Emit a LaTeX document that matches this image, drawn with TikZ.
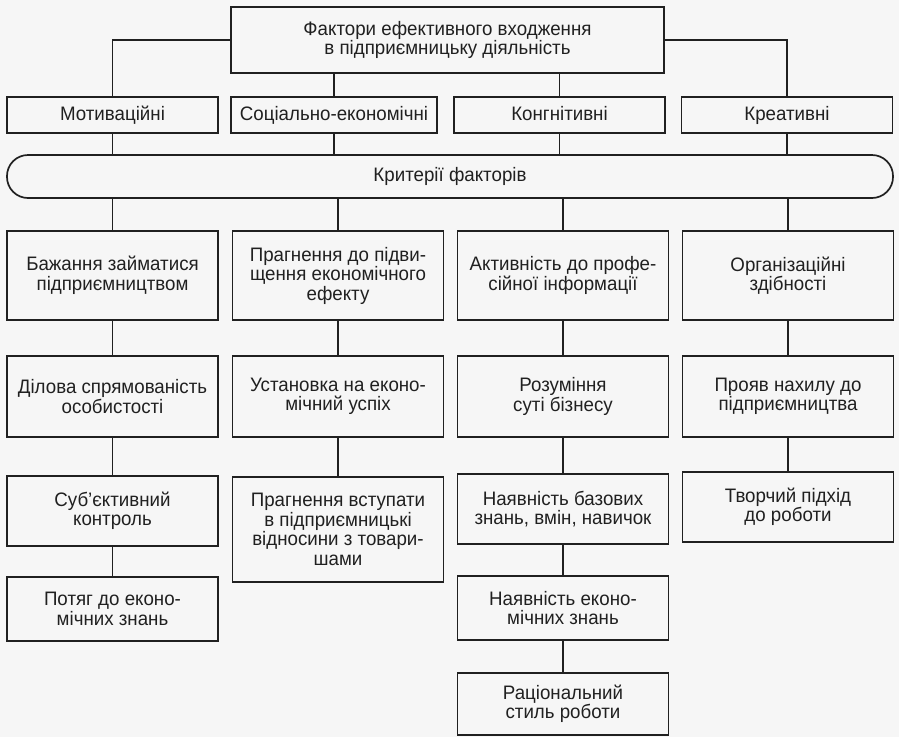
\documentclass[tikz,border=0pt]{standalone}
\usepackage{fontspec}
\setmainfont{Liberation Sans}[FakeStretch=0.96]
\definecolor{ink}{HTML}{202020}
\definecolor{paper}{HTML}{F6F6F6}
\begin{document}
\begin{tikzpicture}[x=1pt,y=-1pt,
  box/.style={draw=ink, line width=1.7pt, rectangle, align=center, inner sep=0pt,
    text=ink, font=\fontsize{19.5}{19.5}\selectfont, minimum width=211pt},
  one/.style={text height=14pt, text depth=4pt},
  conn/.style={draw=ink, line width=1.7pt}]
\fill[paper] (0,0) rectangle (899,737);
\useasboundingbox (0,0) rectangle (899,737);
% top
\node[box, minimum width=433pt, minimum height=66pt] (top) at (447.5,40) {Фактори ефективного входження\\в підприємницьку діяльність};
% row 2
\node[box, one, minimum height=36pt] (mot) at (112.5,115) {Мотиваційні};
\node[box, one, minimum height=36pt, minimum width=206pt] (soc) at (334,115) {Соціально-економічні};
\node[box, one, minimum height=36pt] (kon) at (559.5,115) {Конгнітивні};
\node[box, one, minimum height=36pt] (kre) at (787,115) {Креативні};
% criteria
\node[box, one, minimum width=886pt, minimum height=43pt, rounded corners=21pt] (crit) at (450,176.5) {Критерії факторів};
% row 3
\node[box, minimum height=89pt] (a3) at (112.5,275.5) {Бажання займатися\\підприємництвом};
\node[box, minimum height=89pt] (b3) at (338,275.5) {Прагнення до підви-\\щення економічного\\ефекту};
\node[box, minimum height=89pt] (c3) at (563,275.5) {Активність до профе-\\сійної інформації};
\node[box, minimum height=89pt] (d3) at (788,275.5) {Організаційні\\здібності};
% row 4
\node[box, minimum height=81pt] (a4) at (112.5,396.5) {Ділова спрямованість\\особистості};
\node[box, minimum height=81pt] (b4) at (338,396.5) {Установка на еконо-\\мічний успіх};
\node[box, minimum height=81pt] (c4) at (563,396.5) {Розуміння\\суті бізнесу};
\node[box, minimum height=81pt] (d4) at (788,396.5) {Прояв нахилу до\\підприємництва};
% row 5
\node[box, minimum height=70pt] (a5) at (112.5,511) {Суб’єктивний\\контроль};
\node[box, minimum height=105pt] (b5) at (338,529.5) {Прагнення вступати\\в підприємницькі\\відносини з товари-\\шами};
\node[box, minimum height=70pt] (c5) at (563,509) {Наявність базових\\знань, вмін, навичок};
\node[box, minimum height=70pt] (d5) at (788,507) {Творчий підхід\\до роботи};
% row 6
\node[box, minimum height=64pt] (a6) at (112.5,609) {Потяг до еконо-\\мічних знань};
\node[box, minimum height=64pt] (c6) at (563,608) {Наявність еконо-\\мічних знань};
% row 7
\node[box, minimum height=62pt] (c7) at (563,704) {Раціональний\\стиль роботи};
% connectors
\draw[conn] (top.west) -| (mot.north);
\draw[conn] (top.east) -| (kre.north);
\draw[conn] (soc.north |- top.south) -- (soc.north);
\draw[conn] (kon.north |- top.south) -- (kon.north);
\foreach \n in {mot,soc,kon,kre}{\draw[conn] (\n.south) -- (\n.south |- crit.north);}
\foreach \n in {a3,b3,c3,d3}{\draw[conn] (\n.north |- crit.south) -- (\n.north);}
\draw[conn] (a3) -- (a4); \draw[conn] (b3) -- (b4);
\draw[conn] (c3) -- (c4); \draw[conn] (d3) -- (d4);
\draw[conn] (a4.south) -- (a5.north); \draw[conn] (b4.south) -- (b5.north);
\draw[conn] (c4.south) -- (c5.north); \draw[conn] (d4.south) -- (d5.north);
\draw[conn] (a5.south) -- (a6.north);
\draw[conn] (c5.south) -- (c6.north);
\draw[conn] (c6.south) -- (c7.north);
\end{tikzpicture}
\end{document}
